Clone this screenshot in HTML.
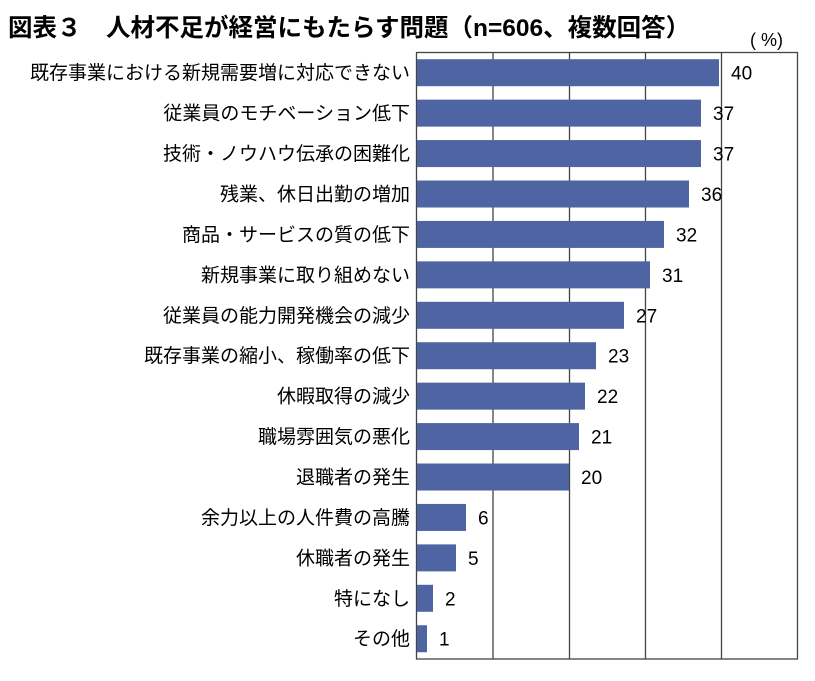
<!DOCTYPE html>
<html><head><meta charset="utf-8"><style>
body{margin:0;background:#fff;width:815px;height:676px;overflow:hidden;font-family:"Liberation Sans","Noto Sans CJK JP",sans-serif;}
</style></head><body>
<svg width="815" height="676" xmlns="http://www.w3.org/2000/svg" font-family="Liberation Sans, Noto Sans CJK JP, sans-serif">
<text x="8" y="36" font-size="24.5" font-weight="bold" fill="#000">図表３　人材不足が経営にもたらす問題（n=606、複数回答）</text>
<text x="750" y="46" font-size="18" fill="#000">( %)</text>
<g stroke="#444" stroke-width="1.3" fill="none">
<rect x="416.5" y="52.5" width="381" height="606.5"/>
<line x1="493" y1="52.5" x2="493" y2="659"/>
<line x1="569.5" y1="52.5" x2="569.5" y2="659"/>
<line x1="645.5" y1="52.5" x2="645.5" y2="659"/>
<line x1="721.5" y1="52.5" x2="721.5" y2="659"/>
</g>
<g id="bars" fill="#4f64a3"></g>
<g id="labels" fill="#000"></g>
<script>
var d=[["既存事業における新規需要増に対応できない",40,302],["従業員のモチベーション低下",37,284],["技術・ノウハウ伝承の困難化",37,284],["残業、休日出勤の増加",36,272],["商品・サービスの質の低下",32,247],["新規事業に取り組めない",31,233],["従業員の能力開発機会の減少",27,207],["既存事業の縮小、稼働率の低下",23,179],["休暇取得の減少",22,168],["職場雰囲気の悪化",21,162],["退職者の発生",20,152],["余力以上の人件費の高騰",6,49],["休職者の発生",5,39],["特になし",2,16],["その他",1,10]];
var ns="http://www.w3.org/2000/svg",b=document.getElementById("bars"),l=document.getElementById("labels");
d.forEach(function(r,i){var cy=52.5+40.43*(i+0.5);var w=r[2];
var e=document.createElementNS(ns,"rect");e.setAttribute("x",417);e.setAttribute("y",cy-13.5);e.setAttribute("width",w);e.setAttribute("height",27);b.appendChild(e);
var t=document.createElementNS(ns,"text");t.setAttribute("x",410);t.setAttribute("y",cy+6.5);t.setAttribute("font-size","19");t.setAttribute("text-anchor","end");t.textContent=r[0];l.appendChild(t);
var v=document.createElementNS(ns,"text");v.setAttribute("x",417+w+12);v.setAttribute("y",cy+7);v.setAttribute("font-size","19");v.textContent=r[1];l.appendChild(v);});
</script>
</svg>
</body></html>
